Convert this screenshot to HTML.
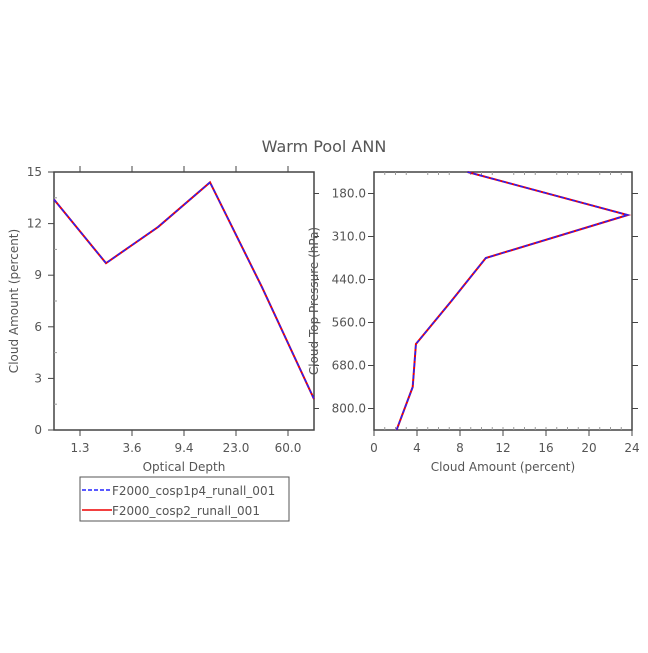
<!DOCTYPE html>
<html><head><meta charset="utf-8"><style>
html,body{margin:0;padding:0;background:#fff}
svg text{font-family:"DejaVu Sans","Liberation Sans",sans-serif;fill:#555}
</style></head><body>
<svg width="648" height="648" viewBox="0 0 648 648" xmlns="http://www.w3.org/2000/svg">
<text x="324" y="152" font-size="16" text-anchor="middle">Warm Pool ANN</text>
<g id="left"></g>
<g id="right"></g>
<g>
<rect x="80" y="477" width="209" height="44" fill="#fff" stroke="#555"/>
<line x1="82" y1="490" x2="112" y2="490" stroke="#2222ff" stroke-width="1.5" stroke-dasharray="4,2"/>
<text x="112" y="495" font-size="12">F2000_cosp1p4_runall_001</text>
<line x1="82" y1="510" x2="112" y2="510" stroke="#e00" stroke-width="1.5"/>
<text x="112" y="515" font-size="12">F2000_cosp2_runall_001</text>
</g>
</svg>
<script>
const leftTickLabels=["1.3","3.6","9.4","23.0","60.0"];
const leftSeriesA=[13.4,9.7,11.8,14.4,8.3,1.8];
const leftSeriesB=[13.4,9.7,11.8,14.4,8.3,1.8];
const leftYTicks=[0,3,6,9,12,15];
const rightTickLabels=["180.0","310.0","440.0","560.0","680.0","800.0"];
const rightSeriesA=[8.7,23.6,10.4,7.2,3.9,3.6,2.1];
const rightSeriesB=[8.7,23.6,10.4,7.2,3.9,3.6,2.1];
const rightXTicks=[0,4,8,12,16,20,24];

const NS="http://www.w3.org/2000/svg";
function mk(p,t,a){const e=document.createElementNS(NS,t);for(const k in a)e.setAttribute(k,a[k]);p.appendChild(e);return e;}
const C="#444";
// LEFT
const L=document.getElementById('left');
const lx0=54,lx1=314,ly0=172,ly1=430;
const lxs=i=>lx0+(lx1-lx0)*i/(leftSeriesA.length-1);
const lys=v=>ly1-(ly1-ly0)*v/15;
let r=mk(L,'rect',{x:lx0,y:ly0,width:lx1-lx0,height:ly1-ly0,fill:'none',stroke:C,'stroke-width':1.5});


leftYTicks.forEach(v=>{
 const y=lys(v);
 mk(L,'line',{x1:lx0-6,y1:y,x2:lx0,y2:y,stroke:C});
 const t=mk(L,'text',{x:lx0-12,y:y+4,'font-size':12,'text-anchor':'end'});t.textContent=v;
 
 
 if(v<15)mk(L,'line',{x1:lx0,y1:lys(v+1.5),x2:lx0+3,y2:lys(v+1.5),stroke:'#999'});
});
leftTickLabels.forEach((s,i)=>{
 const x=lxs(i+0.5);
 mk(L,'line',{x1:x,y1:ly1,x2:x,y2:ly1+6,stroke:C});
 mk(L,'line',{x1:x,y1:ly0,x2:x,y2:ly0-6,stroke:C});
 const t=mk(L,'text',{x:x,y:ly1+22,'font-size':12,'text-anchor':'middle'});t.textContent=s;
 
 
});
let t=mk(L,'text',{x:184,y:471,'font-size':12,'text-anchor':'middle'});t.textContent='Optical Depth';


t=mk(L,'text',{x:18,y:301,'font-size':12,'text-anchor':'middle',transform:'rotate(-90 18 301)'});t.textContent='Cloud Amount (percent)';


let p=mk(L,'polyline',{points:leftSeriesB.map((v,i)=>lxs(i)+','+lys(v)).join(' '),fill:'none',stroke:'#e00','stroke-width':2});


p=mk(L,'polyline',{points:leftSeriesA.map((v,i)=>lxs(i)+','+lys(v)).join(' '),fill:'none',stroke:'#2222ff','stroke-width':1.5,'stroke-dasharray':'4,2'});


// RIGHT
const R=document.getElementById('right');
const rx0=374,rx1=632,ry0=172,ry1=430;
const rxs=v=>rx0+(rx1-rx0)*v/24;
const rys=i=>ry0+(ry1-ry0)*i/(rightSeriesA.length-1);
r=mk(R,'rect',{x:rx0,y:ry0,width:rx1-rx0,height:ry1-ry0,fill:'none',stroke:C,'stroke-width':1.5});


rightTickLabels.forEach((s,i)=>{
 const y=rys(i+0.5);
 mk(R,'line',{x1:rx0-6,y1:y,x2:rx0,y2:y,stroke:C});
 mk(R,'line',{x1:rx1,y1:y,x2:rx1+6,y2:y,stroke:C});
 mk(R,'line',{x1:lx1,y1:y,x2:lx1+5,y2:y,stroke:C});
 const t=mk(R,'text',{x:rx0-8,y:y+4,'font-size':12,'text-anchor':'end'});t.textContent=s;
 
 
});
rightXTicks.forEach(v=>{
 const x=rxs(v);
 mk(R,'line',{x1:x,y1:ry1,x2:x,y2:ry1+6,stroke:C});
 const t=mk(R,'text',{x:x,y:ry1+22,'font-size':12,'text-anchor':'middle'});t.textContent=v;
 
 
});
for(let v=1;v<24;v++){if(v%4)mk(R,'line',{x1:rxs(v),y1:ry0,x2:rxs(v),y2:ry0+3,stroke:'#999'});mk(R,'line',{x1:rxs(v),y1:ry1,x2:rxs(v),y2:ry1-3,stroke:'#999'});}
t=mk(R,'text',{x:503,y:471,'font-size':12,'text-anchor':'middle'});t.textContent='Cloud Amount (percent)';


t=mk(R,'text',{x:318,y:301,'font-size':12,'text-anchor':'middle',transform:'rotate(-90 318 301)'});t.textContent='Cloud Top Pressure (hPa)';


p=mk(R,'polyline',{points:rightSeriesB.map((v,i)=>rxs(v)+','+rys(i)).join(' '),fill:'none',stroke:'#e00','stroke-width':2});


p=mk(R,'polyline',{points:rightSeriesA.map((v,i)=>rxs(v)+','+rys(i)).join(' '),fill:'none',stroke:'#2222ff','stroke-width':1.5,'stroke-dasharray':'4,2'});


</script>
</body></html>
